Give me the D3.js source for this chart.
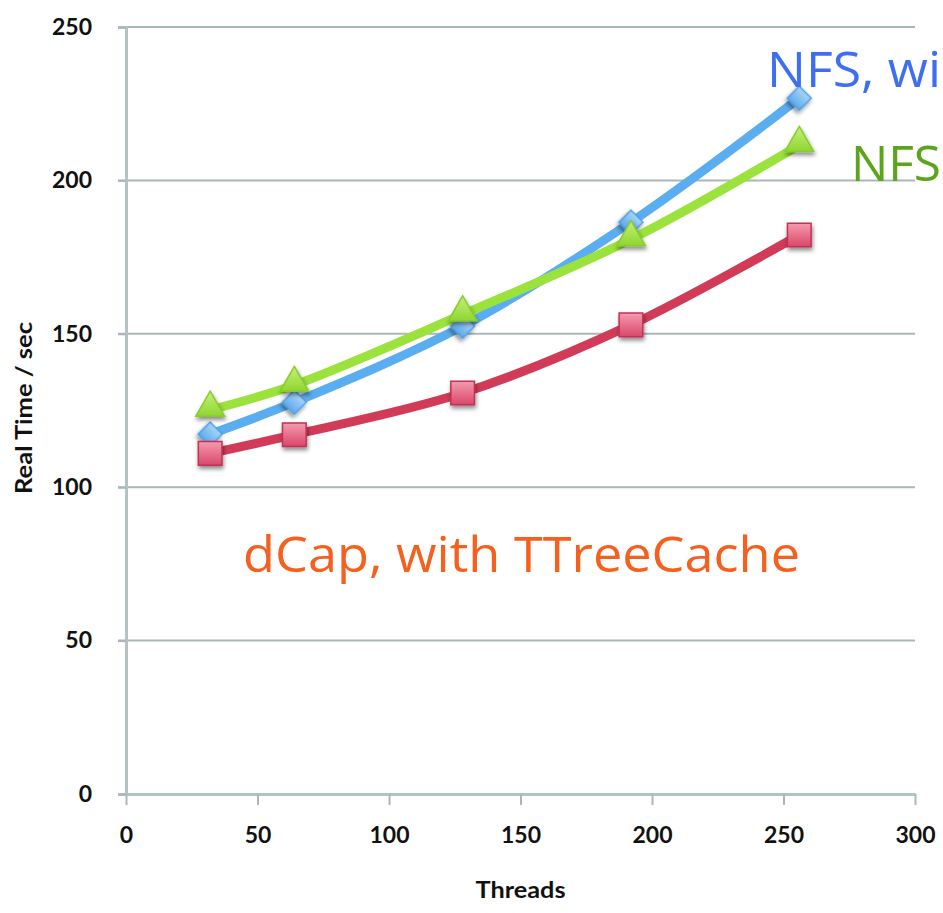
<!DOCTYPE html>
<html>
<head>
<meta charset="utf-8">
<script src="https://cdn.jsdelivr.net/npm/d3@7"></script>
<style>
body { margin: 0; background: #fff; }
svg { display: block; }
.tick text { font-family: Lato, "Open Sans", sans-serif; font-weight: bold; fill: #111; }
.note { font-family: "Open Sans", Lato, sans-serif; }
</style>
</head>
<body>
<div id="chart"></div>
<script>
(function() {

const threads = [32, 64, 128, 192, 256];
const nfsWith = [117.3, 127.7, 152.5, 186.4, 226.8];
const nfs = [125.2, 133.3, 156.3, 180.8, 211.5];
const dcap = [111.0, 117.1, 130.7, 152.9, 182.2];
const xTicks = [0, 50, 100, 150, 200, 250, 300];
const yTicks = [0, 50, 100, 150, 200, 250];

const w = 943;
const h = 913;
const margin = {top: 27, right: 28, bottom: 119, left: 126};

const svg = d3.select("#chart")
    .append("svg")
    .attr("width", w)
    .attr("height", h);

const defs = svg.append("defs");

const shadow = defs.append("filter")
    .attr("id", "shadow")
    .attr("x", "-50%").attr("y", "-50%")
    .attr("width", "200%").attr("height", "200%");
shadow.append("feDropShadow")
    .attr("dx", 1).attr("dy", 3)
    .attr("stdDeviation", 2)
    .attr("flood-color", "#000")
    .attr("flood-opacity", 0.45);

function gradient(id, top, bottom) {
    var g = defs.append("linearGradient")
        .attr("id", id)
        .attr("x1", 0).attr("y1", 0)
        .attr("x2", 0).attr("y2", 1);
    g.append("stop").attr("offset", "0%").attr("stop-color", top);
    g.append("stop").attr("offset", "100%").attr("stop-color", bottom);
}
gradient("gBlue", "#a6d6fb", "#5fa9ea");
gradient("gGreen", "#c4f07a", "#8fd630");
gradient("gRed", "#f59ab0", "#d9476a");

const x = d3.scaleLinear()
    .domain([0, 300])
    .range([margin.left, w - margin.right]);

const y = d3.scaleLinear()
    .domain([0, 250])
    .range([h - margin.bottom, margin.top]);

// gridlines
svg.append("g")
    .selectAll("line")
    .data(yTicks.slice(1))
    .enter()
    .append("line")
    .attr("x1", margin.left - 8)
    .attr("x2", x(300))
    .attr("y1", function(d) { return y(d); })
    .attr("y2", function(d) { return y(d); })
    .attr("stroke", "#a8b8b8")
    .attr("stroke-width", 2);

// y axis
const yAxis = svg.append("g")
    .attr("transform", "translate(" + margin.left + ",0)")
    .call(d3.axisLeft(y).tickValues(yTicks).tickSize(8).tickPadding(26));
yAxis.select(".domain").attr("stroke", "#b3c2c2").attr("stroke-width", 3);
yAxis.selectAll(".tick line").attr("stroke", "#a8b8b8").attr("stroke-width", 2);
yAxis.selectAll(".tick text").style("font-size", "23px");

// x axis
const xAxis = svg.append("g")
    .attr("transform", "translate(0," + y(0) + ")")
    .call(d3.axisBottom(x).tickValues(xTicks).tickSize(11).tickSizeOuter(0).tickPadding(22));
xAxis.select(".domain").attr("stroke", "#b3c2c2").attr("stroke-width", 3);
xAxis.selectAll(".tick line").attr("stroke", "#a8b8b8").attr("stroke-width", 2);
xAxis.selectAll(".tick text").style("font-size", "23px");

// axis titles
svg.append("text")
    .attr("x", x(150))
    .attr("y", 898)
    .attr("text-anchor", "middle")
    .attr("textLength", 90)
    .attr("lengthAdjust", "spacingAndGlyphs")
    .style("font-family", "Lato, sans-serif")
    .style("font-weight", "bold")
    .style("font-size", "22px")
    .attr("fill", "#111")
    .text("Threads");

svg.append("text")
    .attr("transform", "translate(32," + 408 + ") rotate(-90)")
    .attr("text-anchor", "middle")
    .attr("textLength", 172)
    .attr("lengthAdjust", "spacingAndGlyphs")
    .style("font-family", "Lato, sans-serif")
    .style("font-weight", "bold")
    .style("font-size", "22px")
    .attr("fill", "#111")
    .text("Real Time / sec");

const series = [
    {name: "nfsWith", values: nfsWith, line: "#5aaef0", fill: "url(#gBlue)", stroke: "#4f9ee0", marker: d3.symbolSquare, size: 290, rotate: 45},
    {name: "nfs", values: nfs, line: "#9be23c", fill: "url(#gGreen)", stroke: "#86cc2c", marker: d3.symbolTriangle, size: 360, rotate: 0},
    {name: "dcap", values: dcap, line: "#d13b58", fill: "url(#gRed)", stroke: "#c03352", marker: d3.symbolSquare, size: 560, rotate: 0}
];

const line = d3.line()
    .x(function(d) { return x(d[0]); })
    .y(function(d) { return y(d[1]); })
    .curve(d3.curveCatmullRom.alpha(0.5));

series.forEach(function(s) {
    var pts = threads.map(function(t, i) { return [t, s.values[i]]; });

    svg.append("path")
        .datum(pts)
        .attr("fill", "none")
        .attr("stroke", s.line)
        .attr("stroke-width", 9)
        .attr("stroke-linejoin", "round")
        .attr("d", line);

    svg.append("g")
        .selectAll("path")
        .data(pts)
        .enter()
        .append("path")
        .attr("transform", function(d) {
            var dy = s.marker === d3.symbolTriangle ? -2 : 0;
            return "translate(" + x(d[0]) + "," + (y(d[1]) + dy) + ") rotate(" + s.rotate + ")";
        })
        .attr("d", d3.symbol().type(s.marker).size(s.size))
        .attr("fill", s.fill)
        .attr("stroke", s.stroke)
        .attr("stroke-width", 1.5)
        .attr("filter", "url(#shadow)");
});

// labels placed on the chart
svg.append("text")
    .attr("class", "note")
    .attr("x", 767)
    .attr("y", 87)
    .attr("textLength", 174)
    .attr("lengthAdjust", "spacingAndGlyphs")
    .style("font-size", "49px")
    .attr("fill", "#3e6ff2")
    .text("NFS, wi");

svg.append("text")
    .attr("class", "note")
    .attr("x", 851)
    .attr("y", 181)
    .attr("textLength", 90)
    .attr("lengthAdjust", "spacingAndGlyphs")
    .style("font-size", "49px")
    .attr("fill", "#5aa51c")
    .text("NFS");

svg.append("text")
    .attr("class", "note")
    .attr("x", 243)
    .attr("y", 572)
    .attr("textLength", 557)
    .attr("lengthAdjust", "spacingAndGlyphs")
    .style("font-size", "49px")
    .attr("fill", "#f5601e")
    .text("dCap, with TTreeCache");

})();
</script>
</body>
</html>
